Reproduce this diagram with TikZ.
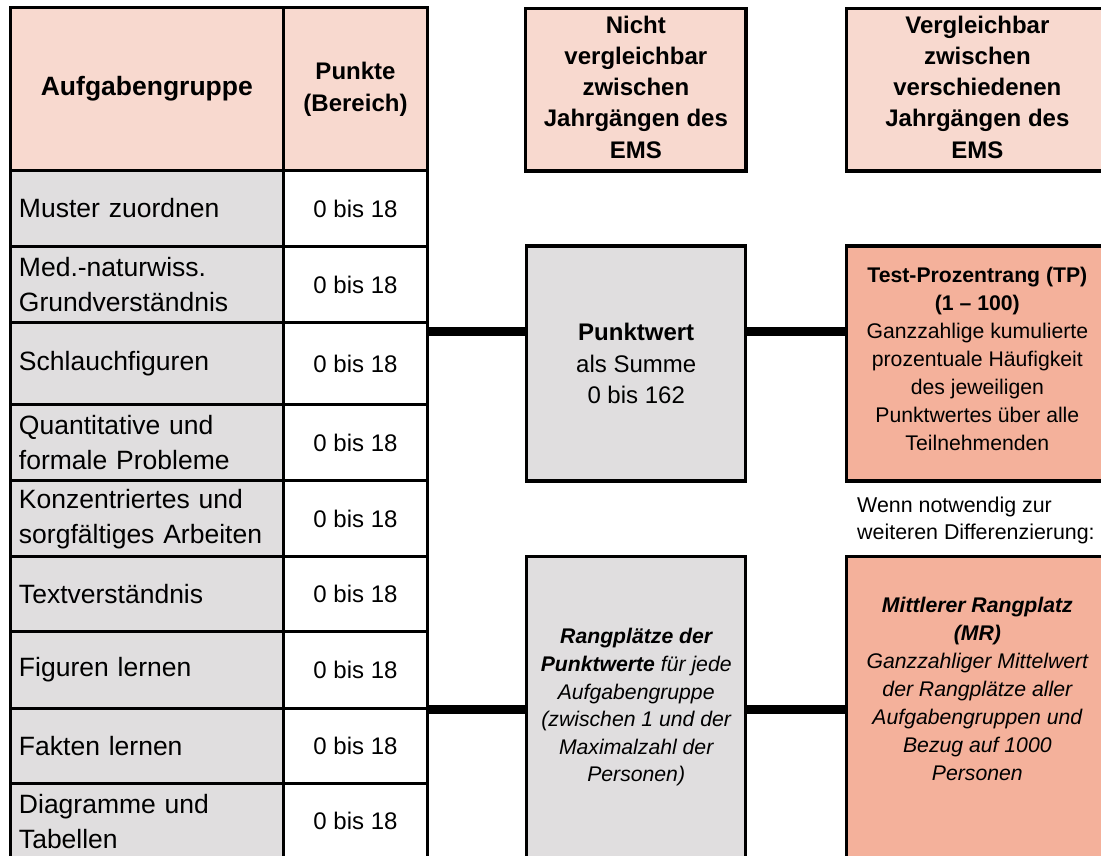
\documentclass[tikz,border=0pt]{standalone}
\usepackage{fontspec}
\setmainfont{Liberation Sans}
\definecolor{hdr}{HTML}{F8D9CF}
\definecolor{gry}{HTML}{E0DEDF}
\definecolor{sal}{HTML}{F4B19B}
\begin{document}
\begin{tikzpicture}[x=1pt,y=-1pt,
  cellbox/.style={draw=black, line width=3pt, inner sep=0pt, outer sep=0pt},
  namecell/.style={cellbox, fill=gry, text width=255.7pt, inner xsep=9pt, inner ysep=0pt, align=left, minimum width=273.7pt, font=\fontsize{26.5}{35}\selectfont},
  valcell/.style={cellbox, fill=white, minimum width=143.6pt, align=center, font=\fontsize{24}{32}\selectfont},
  hdrcell/.style={cellbox, fill=hdr, align=center},
  midbox/.style={cellbox, line width=3.2pt, minimum width=219pt, align=center},
  rightbox/.style={cellbox, line width=3.2pt, minimum width=261.3pt, align=center},
  boxtext/.style={align=center, inner sep=0pt},
  conn/.style={draw=black, line width=9pt}
]
\useasboundingbox (0,0) rectangle (1101,856);
\clip (0,0) rectangle (1101,856);

% table header
\node[hdrcell, minimum width=273.7pt, minimum height=162.6pt, font=\fontsize{26.5}{35}\selectfont\bfseries] (h1) at (146.85,89) {Aufgabengruppe};
\node[hdrcell, minimum width=143.6pt, minimum height=162.6pt, font=\fontsize{24}{32}\selectfont\bfseries] (h2) at (355.5,89) {Punkte\\(Bereich)};

% table rows
\node[namecell, minimum height=76.4pt] (n1) at (146.85,208.5) {Muster zuordnen};
\node[valcell, minimum height=76.4pt] (v1) at (355.5,208.5) {0 bis 18};
\node[namecell, minimum height=75.6pt] (n2) at (146.85,284.5) {Med.-naturwiss.\\Grundverständnis};
\node[valcell, minimum height=75.6pt] (v2) at (355.5,284.5) {0 bis 18};
\node[namecell, minimum height=82.4pt] (n3) at (146.85,363.5) {Schlauchfiguren};
\node[valcell, minimum height=82.4pt] (v3) at (355.5,363.5) {0 bis 18};
\node[namecell, minimum height=76pt] (n4) at (146.85,442.7) {Quantitative und\\formale Probleme};
\node[valcell, minimum height=76pt] (v4) at (355.5,442.7) {0 bis 18};
\node[namecell, minimum height=76pt] (n5) at (146.85,518.7) {Konzentriertes und\\sorgfältiges Arbeiten};
\node[valcell, minimum height=76pt] (v5) at (355.5,518.7) {0 bis 18};
\node[namecell, minimum height=75pt] (n6) at (146.85,594.2) {Textverständnis};
\node[valcell, minimum height=75pt] (v6) at (355.5,594.2) {0 bis 18};
\node[namecell, minimum height=76.6pt] (n7) at (146.85,670) {Figuren lernen};
\node[valcell, minimum height=76.6pt] (v7) at (355.5,670) {0 bis 18};
\node[namecell, minimum height=75pt] (n8) at (146.85,745.8) {Fakten lernen};
\node[valcell, minimum height=75pt] (v8) at (355.5,745.8) {0 bis 18};
\node[namecell, minimum height=75.7pt] (n9) at (146.85,821.2) {Diagramme und\\Tabellen};
\node[valcell, minimum height=75.7pt] (v9) at (355.5,821.2) {0 bis 18};

% column headers
\node[midbox, fill=hdr, minimum width=220.3pt, minimum height=162.7pt] (nv) at (635.85,89.65) {};
\node[boxtext, font=\fontsize{24}{31.25}\selectfont\bfseries] (nvt) at (635.85,87) {Nicht\\vergleichbar\\zwischen\\Jahrgängen des\\EMS};
\node[rightbox, fill=hdr, minimum height=162.7pt] (vg) at (977.35,89.65) {};
\node[boxtext, font=\fontsize{24}{31.25}\selectfont\bfseries] (vgt) at (977.35,87) {Vergleichbar\\zwischen\\verschiedenen\\Jahrgängen des\\EMS};

% middle boxes
\node[midbox, fill=gry, minimum height=235pt, font=\fontsize{24}{31.5}\selectfont] (pw) at (636.2,363.5) {\textbf{Punktwert}\\als Summe\\0 bis 162};
\node[midbox, fill=gry, minimum height=305.3pt] (rp) at (636.2,709.35) {};
\node[boxtext, font=\fontsize{21.2}{27.6}\selectfont\itshape] (rpt) at (636.2,707.5) {\textbf{Rangplätze der}\\\textbf{Punktwerte} für jede\\Aufgabengruppe\\(zwischen 1 und der\\Maximalzahl der\\Personen)};

% right boxes
\node[rightbox, fill=sal, minimum height=235pt] (tp) at (977.35,363.5) {};
\node[boxtext, font=\fontsize{21.2}{28}\selectfont] (tpt) at (977.35,358.5) {\textbf{Test-Prozentrang (TP)}\\\textbf{(1 – 100)}\\Ganzzahlige kumulierte\\prozentuale Häufigkeit\\des jeweiligen\\Punktwertes über alle\\Teilnehmenden};
\node[font=\fontsize{21.4}{27}\selectfont, align=left, inner sep=0pt, anchor=west] (wn) at (857,520) {Wenn notwendig zur\\weiteren Differenzierung:};
\node[rightbox, fill=sal, minimum height=305.3pt] (mr) at (977.35,709.35) {};
\node[boxtext, font=\fontsize{21.2}{28}\selectfont\itshape] (mrt) at (977.35,689) {\textbf{Mittlerer Rangplatz}\\\textbf{(MR)}\\Ganzzahliger Mittelwert\\der Rangplätze aller\\Aufgabengruppen und\\Bezug auf 1000\\Personen};

% connectors
\coordinate (c1) at (0,331.3);
\coordinate (c2) at (0,709.2);
\draw[conn] (v3.east |- c1) -- (pw.west |- c1);
\draw[conn] (pw.east |- c1) -- (tp.west |- c1);
\draw[conn] (v8.east |- c2) -- (rp.west |- c2);
\draw[conn] (rp.east |- c2) -- (mr.west |- c2);
\end{tikzpicture}
\end{document}
